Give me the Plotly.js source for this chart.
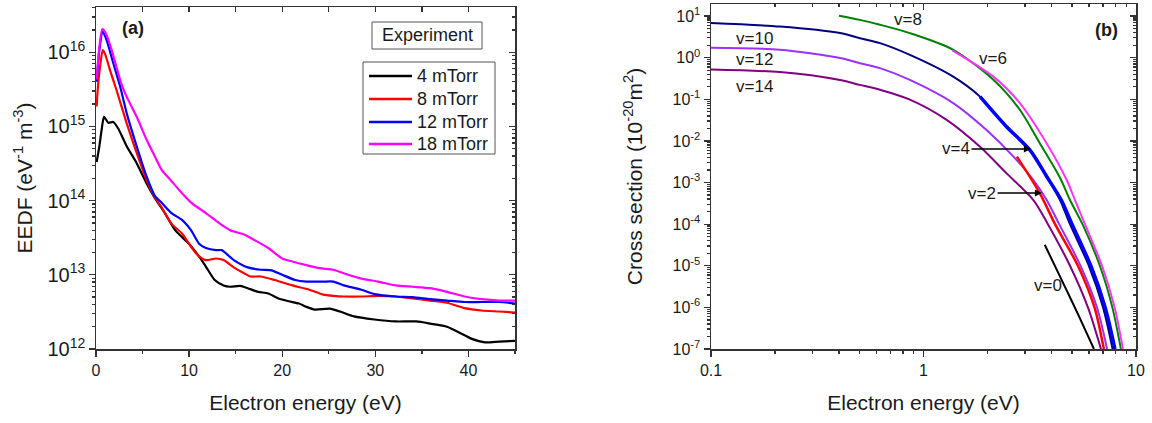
<!DOCTYPE html>
<html>
<head>
<meta charset="utf-8">
<script src="https://cdn.plot.ly/plotly-3.0.1.min.js"></script>
<style>html,body{margin:0;padding:0;background:#fff;}#chart{width:1152px;height:423px;}</style>
</head>
<body>
<div id="chart"></div>
<script>
// ---------- Panel (a): EEDF, experiment ----------
const legendNames = ['4 mTorr', '8 mTorr', '12 mTorr', '18 mTorr'];
const legendColors = ['#000000', '#ff0000', '#0000ff', '#ff00ff'];

const e4 = [0.07,0.36,0.6,0.86,1.33,1.86,2.4,3.3,4.37,5.44,6.34,7.39,8.5,10,11.1,11.8,12.75,13.7,14.4,15.5,16.3,17.4,18.5,19.6,20.7,21.8,22.6,23.5,25.1,26.2,27.7,29.9,32.2,34.4,35.9,37.7,39.2,40.3,41.8,43.3,45];
const eedf4 = [3.3e14,5.4e14,8.9e14,1.35e15,1.12e15,1.15e15,9.3e14,5.4e14,3.2e14,1.7e14,1.07e14,6.8e13,4.0e13,2.6e13,1.74e13,1.29e13,8.5e12,7.2e12,6.9e12,7.1e12,6.6e12,5.9e12,5.6e12,4.8e12,4.4e12,4.1e12,3.7e12,3.4e12,3.5e12,3.2e12,2.75e12,2.5e12,2.35e12,2.35e12,2.2e12,2.0e12,1.62e12,1.38e12,1.23e12,1.26e12,1.29e12];

const e8 = [0.07,0.18,0.43,0.72,0.97,1.5,2.2,3.3,4.37,5.44,6.34,7.0,8.1,9.24,10.2,10.9,11.8,12.9,13.7,14.8,15.9,16.6,17.7,19.2,21.1,22.9,24.4,25.5,26.6,28.5,30.3,32.2,34,35.9,37.7,39.6,41.4,43.3,45];
const eedf8 = [1.86e15,3.1e15,6.3e15,1.07e16,9.5e15,5.75e15,3.1e15,1.1e15,4.4e14,1.9e14,1.1e14,8.3e13,4.9e13,3.6e13,2.4e13,1.86e13,1.58e13,1.66e13,1.58e13,1.26e13,1.05e13,9.5e12,9.5e12,8.5e12,7.2e12,6.3e12,5.4e12,5.2e12,5.1e12,5.1e12,5.2e12,5.1e12,4.8e12,4.5e12,4.2e12,3.55e12,3.3e12,3.2e12,3.1e12];

const e12 = [0.07,0.36,0.72,1.15,1.86,2.58,3.3,4.37,5.44,6.34,7.0,8.1,9.24,10.2,11.1,11.8,12.9,13.5,14.8,16.3,17.7,18.85,20,21.4,22.6,24.4,25.5,26.6,28.5,29.9,32.2,34,35.9,37.7,39.6,41.4,43.3,45];
const eedf12 = [4.0e15,1.07e16,1.9e16,1.45e16,7.1e15,3.5e15,1.5e15,5.4e14,2.1e14,1.15e14,9.5e13,6.8e13,5.5e13,4.0e13,2.6e13,2.3e13,2.15e13,2.15e13,1.58e13,1.26e13,1.17e13,1.15e13,1.0e13,8.5e12,8.1e12,8.1e12,8.1e12,7.2e12,6.3e12,5.5e12,5.1e12,5.0e12,4.7e12,4.5e12,4.3e12,4.3e12,4.3e12,4.1e12];

const e18 = [0.07,0.36,0.68,1.08,1.68,2.2,2.65,3.3,4.37,5.44,6.5,7.05,8.0,9.24,10.35,11.8,13.3,14.4,15.9,17.0,18.5,20,21.1,22.6,24.0,25.5,26.6,28.5,30.3,32.2,34,35.9,37.7,39.6,41.4,43.3,45];
const eedf18 = [4.3e15,1.17e16,2.05e16,1.78e16,1.07e16,6.3e15,4.0e15,2.5e15,1.35e15,6.6e14,3.55e14,2.6e14,1.9e14,1.26e14,9.1e13,6.8e13,4.9e13,4.0e13,3.5e13,2.95e13,2.3e13,1.66e13,1.51e13,1.35e13,1.23e13,1.17e13,1.05e13,8.9e12,8.1e12,7.2e12,6.9e12,6.6e12,5.9e12,5.1e12,4.7e12,4.5e12,4.5e12];

// ---------- Panel (b): cross sections per vibrational level ----------
const ev0 = [3.72,4.62,5.4,6.34];
const cs0 = [3.2e-5,3.2e-6,6.0e-7,1e-7];
const ev2 = [2.75,3.53,4.16,5.33,6.38,7.06];
const cs2 = [4.2e-3,5.5e-4,1e-4,1e-5,1e-6,1e-7];
const ev4 = [1.845,2.46,3.17,3.80,4.45,5.0,6.13,7.16,7.96];
const cs4 = [0.116,0.0219,6.0e-3,1.4e-3,3.8e-4,1e-4,1e-5,1e-6,1e-7];
const ev6 = [1.371,2.133,2.84,3.80,4.72,5.16,5.75,6.92,7.93,8.68];
const cs6 = [1.48,0.351,0.081,8.7e-3,1.15e-3,3.8e-4,1e-4,1e-5,1e-6,1e-7];
const ev8 = [0.40,0.502,0.624,0.863,1.38,2.133,2.84,3.53,4.39,4.89,5.6,6.76,7.74,8.49];
const cs8 = [10.2,8.1,6.2,3.9,1.55,0.295,0.056,8.7e-3,1.3e-3,3.8e-4,1e-4,1e-5,1e-6,1e-7];
const ev10 = [0.1,0.211,0.405,0.502,0.624,0.863,1.38,1.845,2.46,3.17,3.80,4.39,4.89,6.0,7.0,7.76];
const cs10 = [6.8,5.6,3.9,2.94,2.24,1.17,0.351,0.116,0.0219,6.0e-3,1.38e-3,3.8e-4,1e-4,1e-5,1e-6,1e-7];
const ev12 = [0.1,0.211,0.405,0.502,0.624,0.863,1.38,1.98,2.65,3.29,3.80,4.35,5.48,6.55,7.31];
const cs12 = [1.74,1.55,0.98,0.736,0.56,0.292,0.081,0.0182,4.2e-3,1.15e-3,3.8e-4,1e-4,1e-5,1e-6,1e-7];
const ev14 = [0.1,0.211,0.405,0.502,0.624,0.863,1.285,1.845,2.46,3.29,3.85,4.89,5.94,6.84];
const cs14 = [0.52,0.45,0.29,0.222,0.17,0.098,0.032,7.2e-3,1.66e-3,3.8e-4,1e-4,1e-5,1e-6,1e-7];

const csExponents = [-7,-6,-5,-4,-3,-2,-1,0,1];
const levelLabels = ['v=0','v=2','v=4','v=6','v=8','v=10','v=12','v=14'];

const W = 1152, H = 423;
const px = v => v / W;
const py = v => 1 - v / H;

function eedfTrace(x, y, name, color) {
  return {x: x, y: y, name: name, type: 'scatter', mode: 'lines', xaxis: 'x', yaxis: 'y', showlegend: false,
          line: {color: color, width: 2.2, shape: 'spline', smoothing: 0.6}};
}
function csTrace(x, y, name, color, width) {
  return {x: x, y: y, name: name, type: 'scatter', mode: 'lines', xaxis: 'x2', yaxis: 'y2', showlegend: false,
          line: {color: color, width: width, shape: 'spline', smoothing: 0.8}};
}

const traces = [
  eedfTrace(e4, eedf4, legendNames[0], legendColors[0]),
  eedfTrace(e8, eedf8, legendNames[1], legendColors[1]),
  eedfTrace(e12, eedf12, legendNames[2], legendColors[2]),
  eedfTrace(e18, eedf18, legendNames[3], legendColors[3]),
  csTrace(ev14, cs14, levelLabels[7], '#800080', 2),
  csTrace(ev12, cs12, levelLabels[6], '#9b30ff', 2),
  csTrace(ev10, cs10, levelLabels[5], '#000080', 2),
  csTrace(ev8, cs8, levelLabels[4], '#008000', 2),
  csTrace(ev6, cs6, levelLabels[3], '#ff33ff', 2),
  csTrace(ev4, cs4, levelLabels[2], '#0000ff', 3.5),
  csTrace(ev2, cs2, levelLabels[1], '#ff0000', 2.5),
  csTrace(ev0, cs0, levelLabels[0], '#000000', 2),
  // empty traces so that the mirror (inside-tick) axes are drawn
  {x: [], y: [], xaxis: 'x3', yaxis: 'y', showlegend: false, hoverinfo: 'skip'},
  {x: [], y: [], xaxis: 'x', yaxis: 'y3', showlegend: false, hoverinfo: 'skip'},
  {x: [], y: [], xaxis: 'x4', yaxis: 'y2', showlegend: false, hoverinfo: 'skip'},
  {x: [], y: [], xaxis: 'x2', yaxis: 'y4', showlegend: false, hoverinfo: 'skip'}
];

const axLine = {showline: true, linecolor: '#333', linewidth: 1.5, showgrid: false, zeroline: false,
                tickcolor: '#333', tickwidth: 1.3, tickfont: {size: 16}};
const minorOut = {dtick: 'D1', ticks: 'outside', ticklen: 3, tickcolor: '#333', showgrid: false};
const minorIn = {dtick: 'D1', ticks: 'inside', ticklen: 3, tickcolor: '#333', showgrid: false};
const dA = [96 / W, 515 / W], dAy = [1 - 349 / H, 1 - 7 / H];
const dB = [711 / W, 1136 / W], dBy = [1 - 349 / H, 1 - 4 / H];
const csTickVals = csExponents.map(e => Math.pow(10, e));
const csTickText = csExponents.map(e => '10<sup>' + e + '</sup>');

// legend drawn as a framed box of line samples and texts
const legendRows = [76, 99, 122, 144];
const shapes = [
  {type: 'rect', xref: 'paper', yref: 'paper', x0: px(372), x1: px(482), y0: py(49), y1: py(22),
   line: {color: '#555', width: 1}, fillcolor: '#fff'},
  {type: 'rect', xref: 'paper', yref: 'paper', x0: px(363), x1: px(495), y0: py(154), y1: py(62),
   line: {color: '#555', width: 1}, fillcolor: '#fff'}
];
const annotations = [
  {xref: 'paper', yref: 'paper', x: px(133), y: py(28), xanchor: 'center', yanchor: 'middle',
   text: '<b>(a)</b>', showarrow: false, font: {size: 18}},
  {xref: 'paper', yref: 'paper', x: px(1106), y: py(30), xanchor: 'center', yanchor: 'middle',
   text: '<b>(b)</b>', showarrow: false, font: {size: 18}},
  {xref: 'paper', yref: 'paper', x: px(427), y: py(35.5), xanchor: 'center', yanchor: 'middle',
   text: 'Experiment', showarrow: false, font: {size: 18}}
];
legendNames.forEach((n, i) => {
  shapes.push({type: 'line', xref: 'paper', yref: 'paper', x0: px(369), x1: px(412),
               y0: py(legendRows[i]), y1: py(legendRows[i]), line: {color: legendColors[i], width: 2.5}});
  annotations.push({xref: 'paper', yref: 'paper', x: px(415), y: py(legendRows[i]), xanchor: 'left',
                    yanchor: 'middle', text: n, showarrow: false, font: {size: 18}});
});
const labelPos = {'v=8': [908, 20], 'v=6': [993, 59], 'v=10': [754, 38], 'v=12': [754, 60],
                  'v=14': [754, 87], 'v=0': [1048, 285]};
Object.keys(labelPos).forEach(k => {
  annotations.push({xref: 'paper', yref: 'paper', x: px(labelPos[k][0]), y: py(labelPos[k][1]),
                    xanchor: 'center', yanchor: 'middle', text: k, showarrow: false, font: {size: 17}});
});
annotations.push({xref: 'paper', yref: 'paper', x: px(1031), y: py(149), text: 'v=4', showarrow: true,
  ax: -75, ay: 0, arrowhead: 2, arrowsize: 1.1, arrowwidth: 1.3, arrowcolor: '#000', font: {size: 17}});
annotations.push({xref: 'paper', yref: 'paper', x: px(1042), y: py(193), text: 'v=2', showarrow: true,
  ax: -60, ay: 0, arrowhead: 2, arrowsize: 1.1, arrowwidth: 1.3, arrowcolor: '#000', font: {size: 17}});

const layout = {
  width: W, height: H,
  margin: {l: 0, r: 0, t: 0, b: 0},
  paper_bgcolor: '#fff', plot_bgcolor: '#fff',
  font: {family: 'Liberation Sans, Arial, sans-serif', size: 16, color: '#1a1a1a'},
  showlegend: false,
  xaxis: Object.assign({}, axLine, {
    domain: dA, anchor: 'y', range: [0, 45], tick0: 0, dtick: 10, ticks: 'outside', ticklen: 6,
    minor: {dtick: 5, ticks: 'outside', ticklen: 3, tickcolor: '#333', showgrid: false},
    title: {text: 'Electron energy (eV)', font: {size: 21}, standoff: 17}
  }),
  yaxis: Object.assign({}, axLine, {
    domain: dAy, anchor: 'x', type: 'log', range: [12, 16.61], dtick: 1, exponentformat: 'power',
    ticks: 'outside', ticklen: 6, minor: minorOut,
    title: {text: 'EEDF (eV<sup>-1</sup> m<sup>-3</sup>)', font: {size: 21}, standoff: 9}
  }),
  xaxis3: Object.assign({}, axLine, {
    overlaying: 'x', anchor: 'y', side: 'top', range: [0, 45], tick0: 0, dtick: 5,
    ticks: 'inside', ticklen: 5, showticklabels: false
  }),
  yaxis3: Object.assign({}, axLine, {
    overlaying: 'y', anchor: 'x', side: 'right', type: 'log', range: [12, 16.61], dtick: 1,
    ticks: 'inside', ticklen: 6, showticklabels: false, minor: minorIn
  }),
  xaxis2: Object.assign({}, axLine, {
    domain: dB, anchor: 'y2', type: 'log', range: [-1, 1], dtick: 1, ticks: 'outside', ticklen: 6,
    minor: minorOut,
    title: {text: 'Electron energy (eV)', font: {size: 21}, standoff: 17}
  }),
  yaxis2: Object.assign({}, axLine, {
    domain: dBy, anchor: 'x2', type: 'log', range: [-7, 1.29], tickmode: 'array',
    tickvals: csTickVals, ticktext: csTickText,
    ticks: 'outside', ticklen: 6, minor: minorOut,
    title: {text: 'Cross section (10<sup>-20</sup>m<sup>2</sup>)', font: {size: 21}, standoff: 24}
  }),
  xaxis4: Object.assign({}, axLine, {
    overlaying: 'x2', anchor: 'y2', side: 'top', type: 'log', range: [-1, 1], dtick: 1,
    ticks: 'inside', ticklen: 6, showticklabels: false, minor: minorIn
  }),
  yaxis4: Object.assign({}, axLine, {
    overlaying: 'y2', anchor: 'x2', side: 'right', type: 'log', range: [-7, 1.29], dtick: 1,
    ticks: 'inside', ticklen: 6, showticklabels: false, minor: minorIn
  }),
  shapes: shapes,
  annotations: annotations
};

Plotly.newPlot('chart', traces, layout, {staticPlot: true, displayModeBar: false});
</script>
</body>
</html>
